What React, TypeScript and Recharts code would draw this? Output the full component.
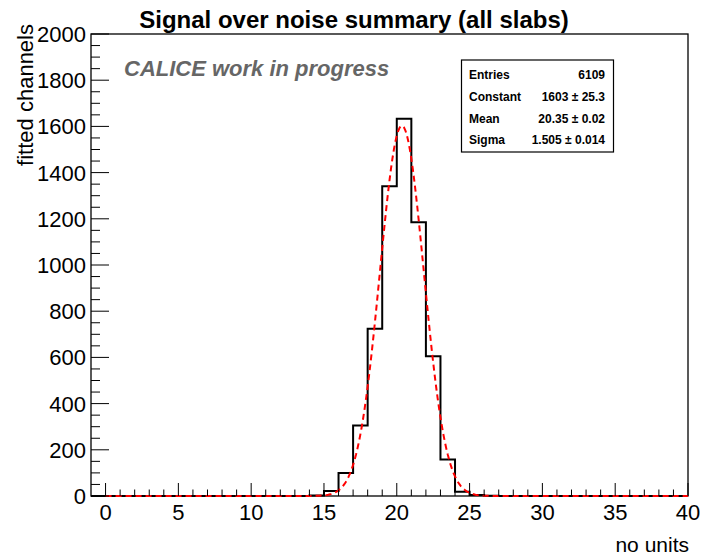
import React from "react";
import { ComposedChart, Line, XAxis, YAxis } from "recharts";

// Histogram of per-channel signal over noise (bin lower edges and contents)
const binLow = [-1, 14, 15, 16, 17, 18, 19, 20, 21, 22, 23, 24, 25, 26, 27, 40];
const binCount = [0, 2, 22, 100, 305, 724, 1341, 1633, 1185, 605, 158, 18, 4, 1, 0, 0];

// Gaussian fit parameters shown in the stats box
const entries = 6109;
const fitConstant = 1603;
const fitConstantErr = "25.3";
const fitMean = 20.35;
const fitMeanErr = "0.02";
const fitSigma = 1.505;
const fitSigmaErr = "0.014";
const fitRange = [0, 40];

const xTicks = Array.from({ length: 41 }, (_, i) => i);
const yTicks = Array.from({ length: 41 }, (_, i) => i * 50);

const W = 703;
const H = 558;
const MARGIN = { top: 34, right: 15, bottom: 32, left: 31 };
const Y_AXIS_W = 60;
const X_AXIS_H = 30;
const PLOT = {
  left: MARGIN.left + Y_AXIS_W,
  top: MARGIN.top,
  right: W - MARGIN.right,
  bottom: H - MARGIN.bottom - X_AXIS_H,
};
const FONT = "'Liberation Sans', Arial, Helvetica, sans-serif";

const histData = binLow.map((x, i) => ({ x, y: binCount[i] }));

const fitData = (() => {
  const pts: { x: number; y: number }[] = [];
  const n = 400;
  for (let i = 0; i <= n; i++) {
    const x = fitRange[0] + ((fitRange[1] - fitRange[0]) * i) / n;
    const z = (x - fitMean) / fitSigma;
    pts.push({ x, y: fitConstant * Math.exp(-0.5 * z * z) });
  }
  return pts;
})();

const BottomTick = (props: any) => {
  const { x, y, payload } = props;
  const major = payload.value % 5 === 0;
  return (
    <g>
      <line x1={x} x2={x} y1={y} y2={y - (major ? 13 : 6.5)} stroke="#000" strokeWidth={1} />
      {major && (
        <text x={x} y={y + 24} textAnchor="middle" fontSize={22} fontFamily={FONT} fill="#000">
          {payload.value}
        </text>
      )}
    </g>
  );
};

const TopTick = (props: any) => {
  const { x, y, payload } = props;
  const major = payload.value % 5 === 0;
  return <line x1={x} x2={x} y1={y} y2={y + (major ? 13 : 6.5)} stroke="#000" strokeWidth={1} />;
};

const LeftTick = (props: any) => {
  const { x, y, payload } = props;
  const major = payload.value % 200 === 0;
  return (
    <g>
      <line x1={x} x2={x + (major ? 18 : 9)} y1={y} y2={y} stroke="#000" strokeWidth={1} />
      {major && (
        <text x={x - 5} y={y + 8} textAnchor="end" fontSize={22} fontFamily={FONT} fill="#000">
          {payload.value}
        </text>
      )}
    </g>
  );
};

const RightTick = (props: any) => {
  const { x, y, payload } = props;
  const major = payload.value % 200 === 0;
  return <line x1={x} x2={x - (major ? 18 : 9)} y1={y} y2={y} stroke="#000" strokeWidth={1} />;
};

const statsRows: [string, string][] = [
  ["Entries", `${entries}`],
  ["Constant", `${fitConstant} \u00b1 ${fitConstantErr}`],
  ["Mean", `${fitMean.toFixed(2)} \u00b1 ${fitMeanErr}`],
  ["Sigma", `${fitSigma.toFixed(3)} \u00b1 ${fitSigmaErr}`],
];
const statsBaselines = [79, 101, 123, 144];

export default function App() {
  return (
    <div style={{ position: "absolute", left: 0, top: 0, width: W, height: H, background: "#fff" }}>
      {/* frame drawn underneath so the fit and histogram sit on top of it */}
      <svg width={W} height={H} style={{ position: "absolute", left: 0, top: 0 }}>
        <rect
          x={PLOT.left}
          y={PLOT.top}
          width={PLOT.right - PLOT.left}
          height={PLOT.bottom - PLOT.top}
          fill="none"
          stroke="#000"
          strokeWidth={1.3}
        />
      </svg>
      <ComposedChart width={W} height={H} margin={MARGIN}>
        <XAxis
          xAxisId="b"
          dataKey="x"
          type="number"
          domain={[-1, 40]}
          ticks={xTicks}
          interval={0}
          tick={<BottomTick />}
          tickLine={false}
          tickSize={0}
          tickMargin={0}
          height={X_AXIS_H}
          axisLine={false}
        />
        <XAxis
          xAxisId="t"
          orientation="top"
          dataKey="x"
          type="number"
          domain={[-1, 40]}
          ticks={xTicks}
          interval={0}
          tick={<TopTick />}
          tickLine={false}
          tickSize={0}
          tickMargin={0}
          height={0}
          axisLine={false}
        />
        <YAxis
          yAxisId="l"
          type="number"
          domain={[0, 2000]}
          ticks={yTicks}
          interval={0}
          tick={<LeftTick />}
          tickLine={false}
          tickSize={0}
          tickMargin={0}
          width={Y_AXIS_W}
          axisLine={false}
        />
        <YAxis
          yAxisId="r"
          orientation="right"
          type="number"
          domain={[0, 2000]}
          ticks={yTicks}
          interval={0}
          tick={<RightTick />}
          tickLine={false}
          tickSize={0}
          tickMargin={0}
          width={0}
          axisLine={false}
        />
        <Line
          xAxisId="b"
          yAxisId="l"
          data={histData}
          dataKey="y"
          type="stepAfter"
          stroke="#000"
          strokeWidth={2}
          dot={false}
          isAnimationActive={false}
        />
        <Line
          xAxisId="b"
          yAxisId="l"
          data={fitData}
          dataKey="y"
          type="linear"
          stroke="#ff0000"
          strokeWidth={2}
          strokeDasharray="6 4"
          dot={false}
          isAnimationActive={false}
        />
      </ComposedChart>
      <svg
        width={W}
        height={H}
        style={{ position: "absolute", left: 0, top: 0, pointerEvents: "none" }}
        fontFamily={FONT}
      >
        <text x={354} y={28} textAnchor="middle" fontSize={24} fontWeight="bold" fill="#000">
          Signal over noise summary (all slabs)
        </text>
        <text
          x={33}
          y={24}
          textAnchor="end"
          fontSize={22}
          fill="#000"
          transform="rotate(-90 33 24)"
        >
          fitted channels
        </text>
        <text x={689} y={552} textAnchor="end" fontSize={21} fill="#000">
          no units
        </text>
        <text x={124} y={76} fontSize={22} fontWeight="bold" fontStyle="italic" fill="#666">
          CALICE work in progress
        </text>
        <rect x={461.5} y={60} width={152} height={92} fill="#fff" stroke="#000" strokeWidth={1.2} />
        {statsRows.map(([k, v], i) => (
          <g key={k}>
            <text x={469} y={statsBaselines[i]} fontSize={12} fontWeight="bold" fill="#000">
              {k}
            </text>
            <text x={605} y={statsBaselines[i]} textAnchor="end" fontSize={12} fontWeight="bold" fill="#000">
              {v}
            </text>
          </g>
        ))}
      </svg>
    </div>
  );
}
